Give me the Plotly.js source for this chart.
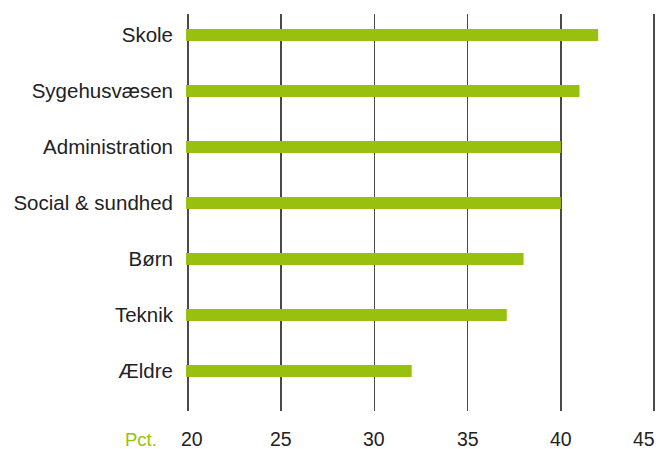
<!DOCTYPE html>
<html>
<head>
<meta charset="utf-8">
<script src="https://cdn.plot.ly/plotly-3.0.1.min.js"></script>
<style>html,body{margin:0;padding:0;background:#fff}#chart{width:656px;height:449px}</style>
</head>
<body>
<div id="chart"></div>
<script>
const categories = ["Skole", "Sygehusvæsen", "Administration", "Social & sundhed", "Børn", "Teknik", "Ældre"];
const values = [42.0, 41.0, 40.0, 40.0, 38.0, 37.1, 32.0];
const tickValues = [20, 25, 30, 35, 40, 45];
const tickLabels = ["20", "25", "30", "35", "40", "45"];
const unitLabel = "Pct.";

const green = "#98c10f";
const textColor = "#222222";
const font = "Liberation Sans, Arial, sans-serif";

const trace = {
  type: "bar",
  orientation: "h",
  y: categories,
  x: values,
  width: 0.214,
  marker: { color: green },
  hoverinfo: "skip"
};

const annotations = tickValues.map((v, i) => ({
  x: v, xref: "x", y: 0, yref: "paper",
  text: tickLabels[i], showarrow: false,
  xanchor: i === tickValues.length - 1 ? "right" : "center",
  xshift: i === 0 ? 4 : (i === tickValues.length - 1 ? 3 : 0),
  yanchor: "middle", yshift: -28,
  font: { family: font, size: 19.5, color: textColor }
}));
annotations.push({
  x: 20, xref: "x", y: 0, yref: "paper",
  text: unitLabel, showarrow: false,
  xanchor: "right", xshift: -29,
  yanchor: "middle", yshift: -28,
  font: { family: font, size: 18.5, color: green }
});

const layout = {
  width: 656, height: 449,
  margin: { l: 186, r: 0, t: 14, b: 38 },
  paper_bgcolor: "#fff", plot_bgcolor: "#fff",
  showlegend: false,
  xaxis: {
    range: [19.9, 45.1], tickvals: tickValues, showticklabels: false,
    showgrid: true, gridcolor: "#4a4a4a", gridwidth: 1.4,
    zeroline: false, showline: false, ticks: ""
  },
  yaxis: {
    type: "category", categoryorder: "array", categoryarray: categories,
    range: [6.714, -0.375], showgrid: false, zeroline: false, showline: false,
    ticks: "", ticklabelstandoff: 12,
    tickfont: { family: font, size: 20.5, color: textColor }
  },
  annotations: annotations
};

Plotly.newPlot("chart", [trace], layout, { staticPlot: true, displayModeBar: false });
</script>
</body>
</html>
